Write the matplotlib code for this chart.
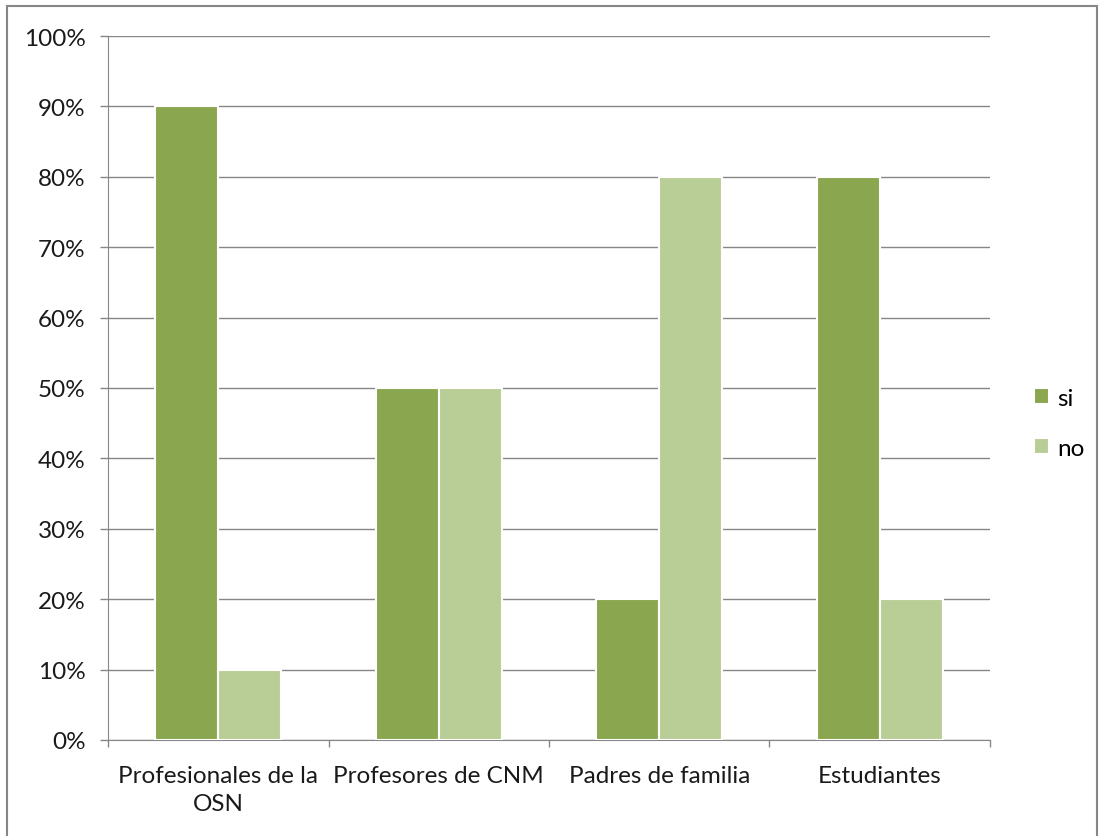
import matplotlib
matplotlib.use("Agg")
import matplotlib.pyplot as plt
from matplotlib.patches import Rectangle
import numpy as np

categories = ["Profesionales de la\nOSN", "Profesores de CNM", "Padres de familia", "Estudiantes"]
si = [90, 50, 20, 80]
no = [10, 50, 80, 20]

c_si = "#8AA64F"
c_no = "#B9CE96"
grid_c = "#868686"

plt.rcParams['font.family'] = ['Lato', 'DejaVu Sans']
fs = 17.5

fig = plt.figure(figsize=(11, 8.37), dpi=100)
ax = fig.add_axes([108 / 1100, 96 / 837, 882 / 1100, 704 / 837])

x = np.arange(len(categories))
w = 0.285
ax.bar(x - w / 2, si, w, color=c_si, edgecolor="white", linewidth=1.5, label="si", zorder=3)
ax.bar(x + w / 2, no, w, color=c_no, edgecolor="white", linewidth=1.5, label="no", zorder=3)

ax.set_xlim(-0.5, len(categories) - 0.5)
ax.set_ylim(0, 100)
ax.set_yticks(range(0, 101, 10))
ax.set_yticklabels([f"{v}%" for v in range(0, 101, 10)], fontsize=fs, color="#1a1a1a")
ax.yaxis.grid(True, color=grid_c, linewidth=1, zorder=0)
ax.set_axisbelow(True)

ax.set_xticks(x)
ax.set_xticklabels(categories, fontsize=fs, color="#1a1a1a", linespacing=1.4)
ax.tick_params(axis="x", length=0, pad=18)
ax.set_xticks(np.arange(-0.5, len(categories), 1), minor=True)
ax.tick_params(axis="x", which="minor", length=5, color=grid_c, width=1)
ax.tick_params(axis="y", length=6, color=grid_c, width=1, pad=10)

for s in ["top", "right"]:
    ax.spines[s].set_visible(False)
ax.spines["left"].set_color(grid_c)
ax.spines["bottom"].set_color(grid_c)

ax.legend(loc="center left", bbox_to_anchor=(1.025, 0.45), frameon=False, fontsize=fs,
          handlelength=0.6, handleheight=0.6, handletextpad=0.35, labelspacing=1.2)

fig.patches.append(Rectangle((7 / 1100, -0.01), 1090 / 1100, 830 / 837 + 0.01,
                             transform=fig.transFigure, fill=False, edgecolor="#868686", linewidth=1.5))

fig.savefig("out.png", dpi=100)
